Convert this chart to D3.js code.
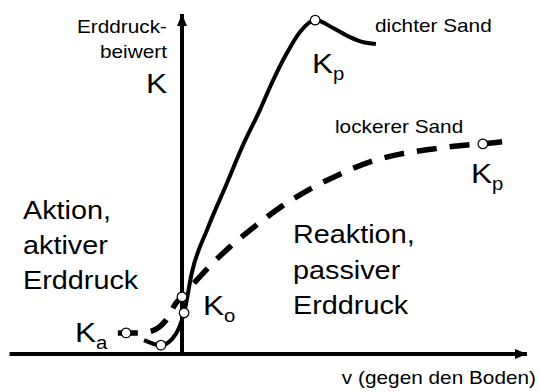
<!DOCTYPE html>
<html>
<head>
<meta charset="utf-8">
<script src="https://cdn.jsdelivr.net/npm/d3@7"></script>
<style>
  body { margin: 0; background: #fff; }
  text { font-family: "Liberation Sans", Arial, sans-serif; fill: #000; }
</style>
</head>
<body>
<div id="chart"></div>
<script>
// Kurven (schematisch): [Verschiebung v, Erddruckbeiwert K]
const dichterSand = [
  [-1.10, 0.41], [-0.61, 0.26], [-0.29, 0.44], [-0.09, 0.76], [0.06, 1.21],
  [0.29, 2.41], [0.75, 3.71], [1.28, 4.97], [1.77, 6.15], [2.26, 7.18],
  [2.55, 7.85], [3.04, 8.85], [3.42, 9.47], [3.86, 9.82], [4.38, 9.59],
  [4.87, 9.32], [5.22, 9.18], [5.62, 9.12]
];
const lockererSand = [
  [-1.86, 0.62], [-1.28, 0.62], [-0.87, 0.68], [-0.46, 1.00], [-0.17, 1.50],
  [0.00, 1.68], [0.38, 2.12], [0.81, 2.59], [1.39, 3.15], [2.12, 3.76],
  [2.90, 4.35], [3.71, 4.85], [4.58, 5.29], [5.45, 5.65], [6.32, 5.88],
  [7.28, 6.03], [8.26, 6.15], [8.72, 6.18], [9.28, 6.24]
];
// markierte Punkte
const kPoints = [
  { name: "Ka", v: -1.62, k: 0.62 },
  { name: "min", v: -0.61, k: 0.26 },
  { name: "Ko locker", v: 0.00, k: 1.68 },
  { name: "Ko dicht", v: 0.06, k: 1.21 },
  { name: "Kp dicht", v: 3.86, k: 9.82 },
  { name: "Kp locker", v: 8.72, k: 6.18 }
];
const yLabelLines = ["Erddruck-", "beiwert"];
const aktivLines = ["Aktion,", "aktiver", "Erddruck"];
const passivLines = ["Reaktion,", "passiver", "Erddruck"];
const xLabel = "v (gegen den Boden)";

const width = 539, height = 392;
const stretch = 1.13;

const svg = d3.select("#chart").append("svg")
  .attr("width", width)
  .attr("height", height);

const x = d3.scaleLinear().domain([-5, 10]).range([9.5, 527]);
const y = d3.scaleLinear().domain([0, 10]).range([354, 14]);

// Achsen als Pfeile
const defs = svg.append("defs");
defs.append("marker")
  .attr("id", "arrow")
  .attr("viewBox", "0 0 12 10")
  .attr("refX", 12).attr("refY", 5)
  .attr("markerWidth", 12).attr("markerHeight", 10)
  .attr("markerUnits", "userSpaceOnUse")
  .attr("orient", "auto")
  .append("path")
  .attr("d", "M0,0L12,5L0,10Z")
  .attr("fill", "#000");

svg.append("line")
  .attr("x1", x(-5)).attr("x2", x(10))
  .attr("y1", y(0)).attr("y2", y(0))
  .attr("stroke", "#000").attr("stroke-width", 4)
  .attr("marker-end", "url(#arrow)");

svg.append("line")
  .attr("x1", x(0)).attr("x2", x(0))
  .attr("y1", y(-0.06)).attr("y2", y(10))
  .attr("stroke", "#000").attr("stroke-width", 4)
  .attr("marker-end", "url(#arrow)");

// Kurven
const line = d3.line()
  .x(d => x(d[0]))
  .y(d => y(d[1]))
  .curve(d3.curveMonotoneX);

svg.append("path")
  .datum(dichterSand)
  .attr("d", line)
  .attr("fill", "none")
  .attr("stroke", "#000")
  .attr("stroke-width", 4);

svg.append("path")
  .datum(lockererSand)
  .attr("d", line)
  .attr("fill", "none")
  .attr("stroke", "#000")
  .attr("stroke-width", 5.5)
  .attr("stroke-dasharray", "20,13");

svg.selectAll("circle.pt")
  .data(kPoints)
  .join("circle")
  .attr("class", "pt")
  .attr("cx", d => x(d.v))
  .attr("cy", d => y(d.k))
  .attr("r", 4.8)
  .attr("fill", "#fff")
  .attr("stroke", "#000")
  .attr("stroke-width", 1.2);

// Texte
function label(txt, px, py, size, anchor) {
  return svg.append("text")
    .attr("transform", `translate(${px},${py}) scale(${stretch},1)`)
    .attr("font-size", size)
    .attr("text-anchor", anchor || "start")
    .text(txt);
}

function kLabel(sub, px, py) {
  const t = svg.append("text")
    .attr("transform", `translate(${px},${py}) scale(${stretch},1)`)
    .attr("font-size", 28);
  t.append("tspan").text("K");
  t.append("tspan").attr("font-size", 18).attr("dy", 7).text(sub);
}

yLabelLines.forEach((s, i) => label(s, 167, 33 + i * 25, 18.4, "end"));
label("K", 167, 93, 28, "end");

aktivLines.forEach((s, i) => label(s, 23, 219 + i * 35, 25.5));
passivLines.forEach((s, i) => label(s, 293, 243 + i * 35.5, 25.5));

label("dichter Sand", 375, 32, 18.4);
label("lockerer Sand", 335, 133, 18.4);
label(xLabel, 536, 384, 18.4, "end");

kLabel("p", 312, 73);
kLabel("p", 471, 183);
kLabel("o", 203, 315);
kLabel("a", 75, 342);
</script>
</body>
</html>
